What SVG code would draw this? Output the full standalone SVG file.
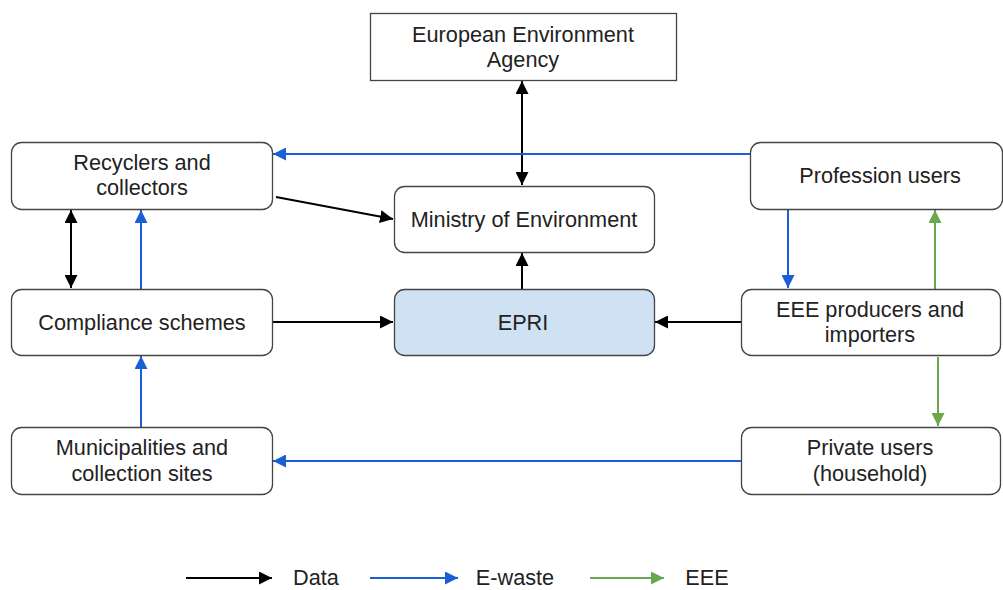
<svg xmlns="http://www.w3.org/2000/svg" width="1003" height="590" viewBox="0 0 1003 590">
<style>
.box{fill:#fff;stroke:#444;stroke-width:1.3}
.epri{fill:#cfe2f3;stroke:#444;stroke-width:1.3}
text{font-family:"Liberation Sans",Arial,sans-serif;font-size:21.7px;fill:#222;text-anchor:middle}
.k{stroke:#000;stroke-width:2;fill:none}
.b{stroke:#1a5fd6;stroke-width:2;fill:none}
.g{stroke:#6aa84f;stroke-width:2;fill:none}
</style>
<defs>
<marker id="ak" viewBox="0 0 10 10" refX="10" refY="5" markerWidth="6.5" markerHeight="6.5" orient="auto-start-reverse" markerUnits="strokeWidth"><path d="M0,0L10,5L0,10z" fill="#000"/></marker>
<marker id="ab" viewBox="0 0 10 10" refX="10" refY="5" markerWidth="6.5" markerHeight="6.5" orient="auto-start-reverse" markerUnits="strokeWidth"><path d="M0,0L10,5L0,10z" fill="#1a5fd6"/></marker>
<marker id="ag" viewBox="0 0 10 10" refX="10" refY="5" markerWidth="6.5" markerHeight="6.5" orient="auto-start-reverse" markerUnits="strokeWidth"><path d="M0,0L10,5L0,10z" fill="#6aa84f"/></marker>
</defs>
<g id="connectors">
<line class="k" x1="522" y1="81" x2="522" y2="185" marker-start="url(#ak)" marker-end="url(#ak)"/>
<line class="b" x1="750" y1="154" x2="273" y2="154" marker-end="url(#ab)"/>
<line class="k" x1="276" y1="197" x2="393" y2="219" marker-end="url(#ak)"/>
<line class="k" x1="522" y1="289" x2="522" y2="253" marker-end="url(#ak)"/>
<line class="k" x1="272" y1="322" x2="393" y2="322" marker-end="url(#ak)"/>
<line class="k" x1="741" y1="322" x2="655" y2="322" marker-end="url(#ak)"/>
<line class="k" x1="71" y1="210" x2="71" y2="288" marker-start="url(#ak)" marker-end="url(#ak)"/>
<line class="b" x1="141" y1="289" x2="141" y2="210" marker-end="url(#ab)"/>
<line class="b" x1="141" y1="427" x2="141" y2="356" marker-end="url(#ab)"/>
<line class="b" x1="741" y1="461" x2="273" y2="461" marker-end="url(#ab)"/>
<line class="b" x1="788" y1="209" x2="788" y2="288" marker-end="url(#ab)"/>
<line class="g" x1="935" y1="289" x2="935" y2="210" marker-end="url(#ag)"/>
<line class="g" x1="938" y1="357" x2="938" y2="426" marker-end="url(#ag)"/>
</g>
<g id="eea"><rect class="box" x="370.5" y="13.5" width="306" height="67"/><text x="523" y="42">European Environment</text><text x="523" y="67">Agency</text></g>
<g id="recyclers"><rect class="box" x="11.5" y="142.5" width="261" height="67" rx="10"/><text x="142" y="170">Recyclers and</text><text x="142" y="195">collectors</text></g>
<g id="ministry"><rect class="box" x="394.5" y="186.5" width="260" height="66" rx="10"/><text x="524" y="227">Ministry of Environment</text></g>
<g id="profession"><rect class="box" x="750.5" y="142.5" width="252" height="67" rx="10"/><text x="880" y="183">Profession users</text></g>
<g id="compliance"><rect class="box" x="11.5" y="289.5" width="261" height="66" rx="10"/><text x="142" y="330">Compliance schemes</text></g>
<g id="epri"><rect class="epri" x="394.5" y="289.5" width="260" height="66" rx="10"/><text x="523" y="330">EPRI</text></g>
<g id="producers"><rect class="box" x="741.5" y="289.5" width="259" height="66" rx="10"/><text x="870" y="317">EEE producers and</text><text x="870" y="342">importers</text></g>
<g id="municipalities"><rect class="box" x="11.5" y="427.5" width="261" height="67" rx="10"/><text x="142" y="455">Municipalities and</text><text x="142" y="481">collection sites</text></g>
<g id="private"><rect class="box" x="741.5" y="427.5" width="259" height="67" rx="10"/><text x="870" y="455">Private users</text><text x="870" y="481">(household)</text></g>
<g id="legend">
<line class="k" x1="186" y1="578" x2="272" y2="578" marker-end="url(#ak)"/>
<text x="316" y="585">Data</text>
<line class="b" x1="370" y1="578" x2="458" y2="578" marker-end="url(#ab)"/>
<text x="515" y="585">E-waste</text>
<line class="g" x1="590" y1="578" x2="664" y2="578" marker-end="url(#ag)"/>
<text x="707" y="585">EEE</text>
</g>
</svg>
